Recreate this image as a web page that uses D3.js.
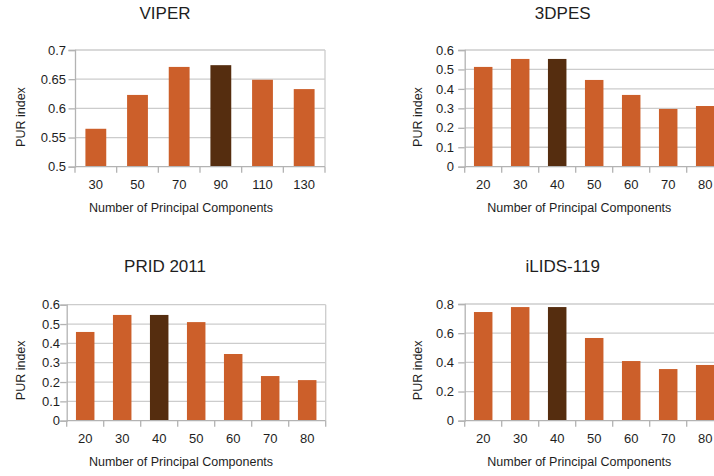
<!DOCTYPE html>
<html>
<head>
<meta charset="utf-8">
<script src="https://cdn.jsdelivr.net/npm/d3@7"></script>
<style>
  html, body { margin: 0; padding: 0; background: #fff; }
  svg { display: block; font-family: "Liberation Sans", Arial, sans-serif; }
</style>
</head>
<body>
<svg id="chart" width="714" height="476"></svg>
<script>
// PUR index vs. number of principal components, one panel per dataset
const titles = ["VIPER", "3DPES", "PRID 2011", "iLIDS-119"];

const viperComponents = ["30", "50", "70", "90", "110", "130"];
const viperValues = [0.565, 0.623, 0.671, 0.674, 0.649, 0.633];

const pesComponents = ["20", "30", "40", "50", "60", "70", "80"];
const pesValues = [0.513, 0.554, 0.554, 0.446, 0.369, 0.297, 0.312];

const pridComponents = ["20", "30", "40", "50", "60", "70", "80"];
const pridValues = [0.459, 0.547, 0.547, 0.510, 0.345, 0.231, 0.210];

const ilidsComponents = ["20", "30", "40", "50", "60", "70", "80"];
const ilidsValues = [0.745, 0.779, 0.779, 0.567, 0.409, 0.354, 0.382];

// selected number of components in each dataset (drawn darker)
const bestComponents = ["90", "40", "40", "40"];

const viperTicks = [0.5, 0.55, 0.6, 0.65, 0.7];
const pesTicks = [0, 0.1, 0.2, 0.3, 0.4, 0.5, 0.6];
const pridTicks = [0, 0.1, 0.2, 0.3, 0.4, 0.5, 0.6];
const ilidsTicks = [0, 0.2, 0.4, 0.6, 0.8];

const xTitle = "Number of Principal Components";
const yTitle = "PUR index";

const barColor = "#cc5f2a";
const bestColor = "#552d0f";
const gridColor = "#cccccc";
const axisColor = "#b3b3b3";
const textColor = "#1e1e1e";

const svg = d3.select("#chart");

const panels = [
  { title: titles[0], cats: viperComponents, vals: viperValues, ticks: viperTicks, best: bestComponents[0],
    x0: 75, x1: 325, y0: 50, y1: 166.7, titleX: 165, titleY: 19, yLabX: 20, yLabY: 117, xTitleX: 181, labRight: 66 },
  { title: titles[1], cats: pesComponents, vals: pesValues, ticks: pesTicks, best: bestComponents[1],
    x0: 464.7, x1: 723.7, y0: 50, y1: 166.7, titleX: 562.7, titleY: 19, yLabX: 417, yLabY: 117, xTitleX: 579.3, labRight: 454 },
  { title: titles[2], cats: pridComponents, vals: pridValues, ticks: pridTicks, best: bestComponents[2],
    x0: 66.7, x1: 325.7, y0: 304.7, y1: 420.7, titleX: 165, titleY: 272, yLabX: 20, yLabY: 370.3, xTitleX: 181, labRight: 60 },
  { title: titles[3], cats: ilidsComponents, vals: ilidsValues, ticks: ilidsTicks, best: bestComponents[3],
    x0: 464.7, x1: 723.7, y0: 304, y1: 420.7, titleX: 562.7, titleY: 272, yLabX: 417, yLabY: 370.3, xTitleX: 579.3, labRight: 454 }
];

panels.forEach(p => {
  const g = svg.append("g");
  const x = d3.scaleBand().domain(p.cats).range([p.x0, p.x1]).paddingInner(0.5).paddingOuter(0.25);
  const y = d3.scaleLinear().domain([p.ticks[0], p.ticks[p.ticks.length - 1]]).range([p.y1, p.y0]);
  const step = x.step();

  // horizontal gridlines
  g.selectAll("line.grid").data(p.ticks.slice(1)).join("line")
    .attr("x1", p.x0).attr("x2", p.x1)
    .attr("y1", d => y(d)).attr("y2", d => y(d))
    .attr("stroke", gridColor).attr("stroke-width", 1.3);

  // right frame edge
  g.append("line")
    .attr("x1", p.x1).attr("x2", p.x1).attr("y1", p.y0).attr("y2", p.y1)
    .attr("stroke", gridColor).attr("stroke-width", 1.3);

  // bars
  g.selectAll("rect.bar").data(p.cats).join("rect")
    .attr("x", d => x(d))
    .attr("width", x.bandwidth())
    .attr("y", (d, i) => y(p.vals[i]))
    .attr("height", (d, i) => y(p.ticks[0]) - y(p.vals[i]))
    .attr("fill", d => d === p.best ? bestColor : barColor);

  // y axis
  const yAxis = d3.axisLeft(y).tickValues(p.ticks).tickSize(6.5).tickPadding(2.5)
    .tickFormat(d => String(+d.toFixed(2)));
  const ya = g.append("g").attr("transform", `translate(${p.x0},0)`).call(yAxis);
  ya.select(".domain").attr("stroke", axisColor).attr("stroke-width", 1.3);
  ya.selectAll(".tick line").attr("stroke", axisColor).attr("stroke-width", 1.3);
  ya.selectAll(".tick text").attr("fill", textColor).attr("font-size", 13)
    .attr("font-family", "'Liberation Sans', Arial, sans-serif")
    .attr("x", p.labRight - p.x0);

  // x axis baseline and category boundary ticks
  g.append("line")
    .attr("x1", p.x0).attr("x2", p.x1).attr("y1", p.y1).attr("y2", p.y1)
    .attr("stroke", axisColor).attr("stroke-width", 1.3);
  const bounds = d3.range(p.cats.length + 1).map(i => p.x0 + i * step);
  g.selectAll("line.xt").data(bounds).join("line")
    .attr("x1", d => d).attr("x2", d => d)
    .attr("y1", p.y1).attr("y2", p.y1 + 6)
    .attr("stroke", axisColor).attr("stroke-width", 1.3);

  // category labels
  g.selectAll("text.cat").data(p.cats).join("text")
    .attr("x", d => x(d) + x.bandwidth() / 2)
    .attr("y", p.y1 + 22)
    .attr("text-anchor", "middle")
    .attr("font-size", 13).attr("fill", textColor)
    .text(d => d);

  // titles
  g.append("text").attr("x", p.titleX).attr("y", p.titleY)
    .attr("text-anchor", "middle").attr("font-size", 17).attr("fill", textColor)
    .text(p.title);
  g.append("text").attr("x", p.xTitleX).attr("y", p.y1 + 45.5)
    .attr("text-anchor", "middle").attr("font-size", 12.5).attr("fill", textColor)
    .text(xTitle);
  g.append("text")
    .attr("transform", `translate(${p.yLabX + 4.5},${p.yLabY}) rotate(-90)`)
    .attr("text-anchor", "middle").attr("font-size", 12.5).attr("fill", textColor)
    .text(yTitle);
});
</script>
</body>
</html>
